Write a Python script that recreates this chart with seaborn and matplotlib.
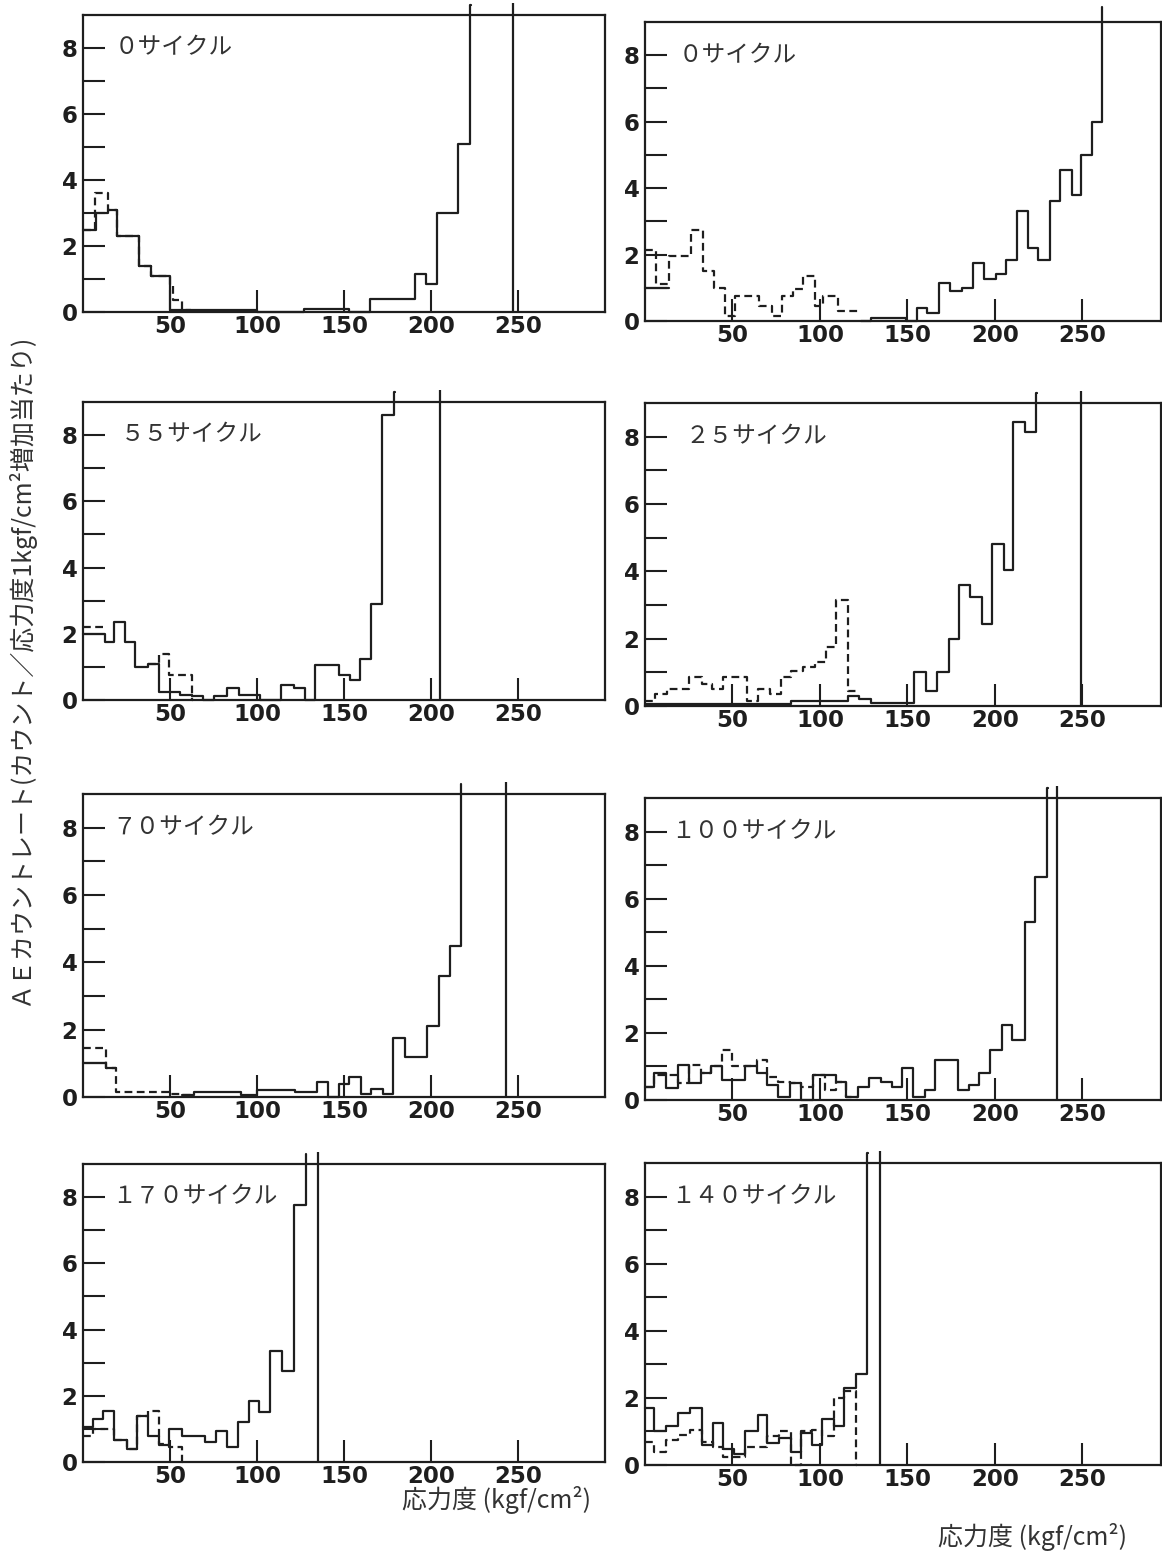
import numpy as np
import pandas as pd
import matplotlib
matplotlib.use("Agg")
import matplotlib.pyplot as plt
import seaborn as sns

# ---------------------------------------------------------------------------
# AE count rate per 1 kgf/cm2 stress increment, step histograms per cycle count
# each series: bin edges (stress, kgf/cm2) and bin heights (count rate)
# NaN height = no line drawn over that bin
# ---------------------------------------------------------------------------
nan = np.nan

# left column -------------------------------------------------------------
l1_label = "０サイクル"
l1_solid_edges = [0, 7.5, 14.3, 19.8, 32.2, 38.8, 50, 100, 127, 152.6, 165, 191, 197,
                  203.5, 215.7, 222.4, 222.8]
l1_solid_h = [2.5, 3.0, 3.1, 2.3, 1.4, 1.1, 0.05, 0.0, 0.1, 0.0, 0.4, 1.15, 0.85,
              3.0, 5.1, 9.3]
l1_dash_edges = [0, 7.1, 14.3, 19.8, 32.2, 38.8, 50, 52, 57, 62]
l1_dash_h = [2.5, 3.6, 3.1, 2.3, 1.4, 1.1, 0.8, 0.35, 0.05]
l1_fail = 247

l2_label = "５５サイクル"
l2_solid_edges = [0, 12.4, 17.6, 24.2, 30, 37.3, 43.5, 55.9, 62.7, 69, 75.5, 82.8, 89.6,
                  102, 113.8, 121, 127.3, 133.5, 147, 153.2, 159.4, 165.6, 171.8, 179, 179.4]
l2_solid_h = [2.0, 1.75, 2.35, 1.75, 1.0, 1.1, 0.25, 0.15, 0.12, 0.0, 0.12, 0.35,
              0.15, 0.0, 0.45, 0.35, 0.0, 1.05, 0.75, 0.6, 1.25, 2.9, 8.6, 9.3]
l2_dash_edges = [0, 12.4, 37.3, 43.5, 49.7, 62.7, 63.0]
l2_dash_h = [2.2, nan, 1.1, 1.4, 0.75, 0.0]
l2_fail = 205

l3_label = "７０サイクル"
l3_solid_edges = [0, 13, 18.7, 56.8, 64, 90.8, 100, 121.7, 134.5, 140.7, 146.9, 152.6,
                  159.8, 165.4, 172.2, 178.4, 185.2, 197.5, 204.5, 210.7, 217.1, 217.5]
l3_solid_h = [1.0, 0.85, nan, 0.05, 0.15, 0.05, 0.2, 0.15, 0.45, 0.0, 0.4, 0.6, 0.1,
              0.25, 0.1, 1.75, 1.2, 2.1, 3.6, 4.5, 9.3]
l3_dash_edges = [0, 13, 18.7, 49.6, 56.8, 64.0]
l3_dash_h = [1.45, 0.85, 0.15, 0.1, 0.05]
l3_fail = 243

l4_label = "１７０サイクル"
l4_solid_edges = [0, 5.5, 11.7, 17.8, 25, 31.2, 37.3, 43.5, 49.6, 56.8, 70.2, 76.3, 82.9,
                  89, 95.2, 101.3, 107.5, 114.3, 121, 128, 128.4]
l4_solid_h = [1.05, 1.3, 1.55, 0.65, 0.4, 1.4, 0.8, 0.5, 1.0, 0.8, 0.6, 0.95, 0.45,
              1.2, 1.85, 1.5, 3.35, 2.75, 7.75, 9.3]
l4_dash_edges = [0, 5.5, 17.8, 25, 31.2, 37.3, 43.5, 49.6, 56.8, 57.2]
l4_dash_h = [0.8, 1.0, 0.65, 0.4, 1.4, 1.55, 0.55, 0.45, 0.0]
l4_fail = 135

# right column ------------------------------------------------------------
r1_label = "０サイクル"
r1_solid_edges = [0, 14, 123.4, 129.4, 149.4, 155.4, 161.4, 168, 174.4, 181.4, 187.4,
                  194, 200.4, 206.4, 212.4, 218.8, 224.4, 231.4, 237.4, 243.8, 249.4,
                  255.4, 261, 261.4]
r1_solid_h = [1.0, nan, 0.0, 0.1, 0.0, 0.4, 0.25, 1.15, 0.9, 1.0, 1.75, 1.25, 1.4,
              1.85, 3.3, 2.2, 1.85, 3.6, 4.55, 3.8, 5.0, 6.0, 9.45]
r1_dash_edges = [0, 6.4, 14, 26.4, 33, 39.4, 46, 51.4, 65.4, 72.4, 78.4, 84.4, 90.4,
                 97, 101.8, 110.4, 123.4]
r1_dash_h = [2.15, 1.1, 1.95, 2.75, 1.5, 1.0, 0.15, 0.75, 0.45, 0.15, 0.75, 0.95,
             1.35, 0.45, 0.75, 0.3]
r1_fail = None

r2_label = "２５サイクル"
r2_solid_edges = [0, 83.6, 115.8, 122.2, 129, 154, 160.5, 167, 173.7, 179.6, 186, 192.6,
                  198.6, 205, 210.6, 217, 223.6, 224]
r2_solid_h = [0.05, 0.15, 0.3, 0.2, 0.1, 1.0, 0.45, 1.0, 2.0, 3.6, 3.25, 2.45, 4.8,
              4.05, 8.45, 8.15, 9.3]
r2_dash_edges = [0, 6, 12.4, 25.3, 32.3, 38.3, 44.7, 58.3, 64.3, 71.3, 77.8, 83.6, 90.2,
                 97.2, 103.2, 109.2, 115.8, 122.2]
r2_dash_h = [0.15, 0.35, 0.5, 0.85, 0.65, 0.5, 0.85, 0.15, 0.5, 0.35, 0.85, 1.05,
             1.15, 1.3, 1.75, 3.15, 0.45]
r2_fail = 249

r3_label = "１００サイクル"
r3_solid_edges = [0, 5, 12, 19, 25, 32, 38, 44, 50, 57, 64, 70, 76, 83, 89, 96, 103, 109,
                  115, 122, 128, 135, 141, 147, 153, 160, 166, 179, 185, 191, 197, 204,
                  210, 217, 223, 229.7, 230.1]
r3_solid_h = [0.4, 0.8, 0.35, 1.05, 0.5, 0.8, 1.0, 0.6, 0.6, 1.0, 0.8, 0.45, 0.1, 0.5,
              0.0, 0.75, 0.75, 0.55, 0.1, 0.4, 0.65, 0.55, 0.4, 0.95, 0.1, 0.3, 1.2,
              0.3, 0.45, 0.8, 1.5, 2.25, 1.8, 5.3, 6.65, 9.3]
r3_dash_edges = [0, 5, 12, 19, 25, 32, 38, 44, 50, 57, 64, 70, 76, 83, 89, 96, 103, 109,
                 115, 122]
r3_dash_h = [0.4, 0.75, 0.75, 0.5, 1.05, 0.8, 1.0, 1.5, 1.0, 1.0, 1.2, 0.7, 0.55, 0.5,
             0.4, 0.75, 0.3, 0.55, 0.1]
r3_fail = 235.7

r4_label = "１４０サイクル"
r4_solid_edges = [0, 5.2, 11.9, 18.6, 25.6, 32.5, 38.6, 44.3, 51, 57.3, 64.3, 70, 76.7,
                  83.3, 89, 95.7, 101.4, 108, 113.8, 120.5, 127.1, 127.5]
r4_solid_h = [1.7, 1.0, 1.15, 1.55, 1.7, 0.6, 1.25, 0.47, 0.34, 1.0, 1.5, 0.65, 0.8,
              0.4, 0.95, 0.6, 1.38, 1.15, 2.28, 2.7, 9.3]
r4_dash_edges = [0, 5.2, 11.9, 18.6, 25.6, 32.5, 38.6, 44.3, 57.3, 70, 76.7, 83.3, 89,
                 95.7, 101.4, 108, 113.8, 120.5, 120.9]
r4_dash_h = [0.7, 0.4, 0.75, 0.9, 1.05, 0.7, 0.55, 0.25, 0.55, 0.85, 1.0, 0.0, 1.0,
             1.05, 0.85, 2.0, 2.2, 0.0]
r4_fail = 134.5

x_ticks = [50, 100, 150, 200, 250]
y_major = [0, 2, 4, 6, 8]
y_minor = [1, 3, 5, 7]
y_label = "ＡＥカウントレート(カウント／応力度1kgf/cm²増加当たり)"
x_label = "応力度 (kgf/cm²)"

# ---------------------------------------------------------------------------
sns.set_theme(style="ticks")
plt.rcParams["font.family"] = ["DejaVu Sans"]
JP = ["Noto Sans CJK JP", "DejaVu Sans"]
INK = "#1e1e1e"
TXT = "#333333"

W, H = 1162, 1555
fig = plt.figure(figsize=(W / 100, H / 100), dpi=100)
fig.patch.set_facecolor("white")


def px_axes(x0, x1, y_top, y_bot):
    return fig.add_axes([x0 / W, 1 - y_bot / H, (x1 - x0) / W, (y_bot - y_top) / H])


def draw_steps(ax, edges, heights, dashed=False):
    edges = np.asarray(edges, float)
    heights = np.asarray(heights, float)
    ok = ~np.isnan(heights)
    n = len(heights)
    i = 0
    while i < n:
        if not ok[i]:
            i += 1
            continue
        j = i
        while j < n and ok[j]:
            j += 1
        e = edges[i:j + 1]
        h = heights[i:j]
        seg = pd.DataFrame({"stress": (e[:-1] + e[1:]) / 2, "rate": h})
        sns.histplot(data=seg, x="stress", weights="rate", bins=e.tolist(),
                     element="step", fill=False, color=INK, linewidth=1.6,
                     linestyle=(0, (3.5, 2.0)) if dashed else "-",
                     clip_on=False, ax=ax)
        i = j


panels = [
    # (label, solid edges, solid h, dash edges, dash h, failure, px box, xmax, label x)
    (l1_label, l1_solid_edges, l1_solid_h, l1_dash_edges, l1_dash_h, l1_fail,
     (83, 605, 15, 312), 300, 18),
    (l2_label, l2_solid_edges, l2_solid_h, l2_dash_edges, l2_dash_h, l2_fail,
     (83, 605, 402, 700), 300, 22),
    (l3_label, l3_solid_edges, l3_solid_h, l3_dash_edges, l3_dash_h, l3_fail,
     (83, 605, 794, 1097), 300, 17),
    (l4_label, l4_solid_edges, l4_solid_h, l4_dash_edges, l4_dash_h, l4_fail,
     (83, 605, 1164, 1462), 300, 17),
    (r1_label, r1_solid_edges, r1_solid_h, r1_dash_edges, r1_dash_h, r1_fail,
     (645, 1161, 22, 321), 294.9, 19),
    (r2_label, r2_solid_edges, r2_solid_h, r2_dash_edges, r2_dash_h, r2_fail,
     (645, 1161, 403, 706), 294.9, 23),
    (r3_label, r3_solid_edges, r3_solid_h, r3_dash_edges, r3_dash_h, r3_fail,
     (645, 1161, 798, 1100), 294.9, 15),
    (r4_label, r4_solid_edges, r4_solid_h, r4_dash_edges, r4_dash_h, r4_fail,
     (645, 1161, 1163, 1465), 294.9, 15),
]

for label, se, sh, de, dh, fail, box, xmax, lx in panels:
    ax = px_axes(*box)
    ax.set_facecolor("white")
    draw_steps(ax, se, sh, dashed=False)
    draw_steps(ax, de, dh, dashed=True)
    if fail is not None:
        ax.vlines(fail, 0, 9.35, color=INK, linewidth=1.6, clip_on=False)

    ax.set_xlim(0, xmax)
    ax.set_ylim(0, 9)
    ax.set_xticks(x_ticks)
    ax.set_xticklabels([str(t) for t in x_ticks])
    ax.set_yticks(y_major)
    ax.set_yticklabels([str(t) for t in y_major])
    ax.set_yticks(y_minor, minor=True)
    ax.set_xlabel("")
    ax.set_ylabel("")

    ax.tick_params(axis="both", which="both", direction="in", color=INK,
                   width=1.5, top=False, right=False)
    ax.tick_params(axis="x", which="major", length=16, pad=2, bottom=True,
                   labelsize=16.5, labelcolor=INK)
    ax.tick_params(axis="y", which="both", length=16, pad=4, left=True,
                   labelsize=16.5, labelcolor=INK)
    for lab in ax.get_xticklabels() + ax.get_yticklabels():
        lab.set_fontweight("bold")

    for side in ["left", "right", "top", "bottom"]:
        ax.spines[side].set_visible(True)
        ax.spines[side].set_color(INK)
        ax.spines[side].set_linewidth(1.6)

    ax.text(lx, 8, label, family=JP, fontsize=17, color=TXT,
            ha="left", va="center")

fig.text(20 / W, 1 - 670 / H, y_label, rotation=90, ha="center", va="center",
         family=JP, fontsize=18, color=TXT)
fig.text(497 / W, 1 - 1500 / H, x_label, ha="center", va="center",
         family=JP, fontsize=18, color=TXT)
fig.text(1032 / W, 1 - 1537 / H, x_label, ha="center", va="center",
         family=JP, fontsize=18, color=TXT)

fig.savefig("out.png", dpi=100, facecolor="white")
